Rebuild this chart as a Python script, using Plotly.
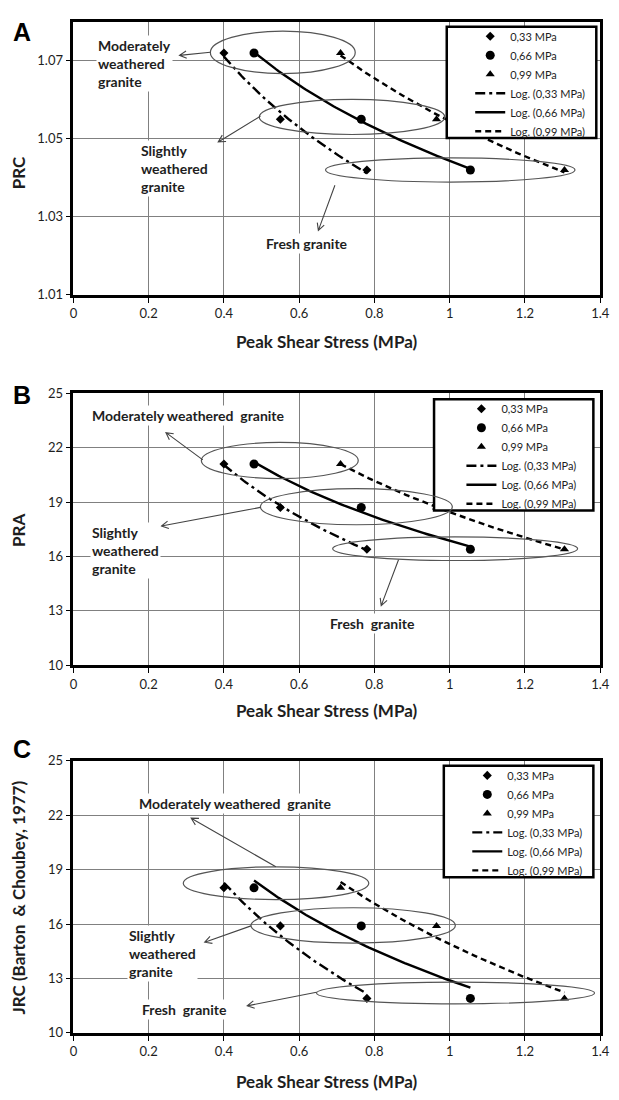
import numpy as np
import plotly.graph_objects as go

# Peak shear stress (MPa) for the three weathering grades
# (moderately weathered, slightly weathered, fresh) under each normal stress
stress_033 = [0.40, 0.55, 0.78]
stress_066 = [0.48, 0.765, 1.055]
stress_099 = [0.71, 0.965, 1.305]

# Roughness parameters for the same three grades
prc_values = [1.072, 1.055, 1.042]
pra_values = [21.1, 18.7, 16.4]
jrc_values = [18.0, 15.9, 11.9]

series_names = ["0,33 MPa", "0,66 MPa", "0,99 MPa"]
trend_names = ["Log. (0,33 MPa)", "Log. (0,66 MPa)", "Log. (0,99 MPa)"]

x_ticks = [0, 0.2, 0.4, 0.6, 0.8, 1.0, 1.2, 1.4]

# ---------------------------------------------------------------- layout geometry
W, H = 619, 1100
PX_L, PX_R = 71, 610
PLOT_W = PX_R - PX_L
X_RANGE = [0, 1.4]
FONT = "Lato"
TEXT = "#1e1e1e"


def px_x(px):
    return px / W


def px_y(py):
    return 1 - py / H


panels = [
    dict(letter="A", ytitle="PRC", values=prc_values, top=14, bottom=291,
         yrange=[1.01, 1.08], tick0=1.01, dtick=0.02, tickformat=".2f",
         letter_y=24, ytitle_y=167, xtitle_y=338,
         legend_box=(453, 606), legend_pos=(477, 14)),
    dict(letter="B", ytitle="PRA", values=pra_values, top=391, bottom=667,
         yrange=[10, 25], tick0=10, dtick=3, tickformat="d",
         letter_y=393, ytitle_y=530, xtitle_y=713,
         legend_box=(440, 603), legend_pos=(468, 392)),
    dict(letter="C", ytitle="JRC (Barton\u00a0 & Choubey, 1977)", values=jrc_values,
         top=764, bottom=1040, yrange=[10, 25], tick0=10, dtick=3, tickformat="d",
         letter_y=752, ytitle_y=903, xtitle_y=1089,
         legend_box=(450, 603), legend_pos=(474, 764)),
]

stresses = [stress_033, stress_066, stress_099]
symbols = ["diamond", "circle", "triangle-up"]
msizes = [7, 9, 8]
dashes = ["10px,4px,3px,4px", "solid", "6px,4px"]

fig = go.Figure()
shapes = []
annotations = []

for i, p in enumerate(panels):
    sfx = "" if i == 0 else str(i + 1)
    xa, ya = "x" + sfx, "y" + sfx
    leg = "legend" + sfx

    axis_common = dict(
        showgrid=True, gridcolor="#808080", gridwidth=1,
        showline=True, mirror=True, linecolor="black", linewidth=2.5,
        ticks="outside", ticklen=5, tickwidth=1.3, tickcolor="black",
        tickfont=dict(family=FONT, size=13, color=TEXT),
        ticklabeloverflow="allow",
        zeroline=False, fixedrange=True,
    )
    fig.update_layout(**{
        "xaxis" + sfx: dict(axis_common, domain=[px_x(PX_L), px_x(PX_R)],
                            range=X_RANGE, tickvals=x_ticks, anchor=ya),
        "yaxis" + sfx: dict(axis_common,
                            domain=[px_y(p["bottom"]), px_y(p["top"])],
                            range=p["yrange"], tick0=p["tick0"], dtick=p["dtick"],
                            tickformat=p["tickformat"], anchor=xa),
    })

    # logarithmic trend lines fitted to each normal-stress series
    for k, xs in enumerate(stresses):
        a, b = np.polyfit(np.log(xs), p["values"], 1)
        xfit = np.linspace(min(xs), max(xs), 80)
        fig.add_trace(go.Scatter(
            x=xfit, y=a * np.log(xfit) + b, mode="lines", name=trend_names[k],
            line=dict(color="black", width=2.4, dash=dashes[k]),
            xaxis=xa, yaxis=ya, legend=leg, legendrank=10 + k, hoverinfo="skip"))

    # measured points
    for k, xs in enumerate(stresses):
        fig.add_trace(go.Scatter(
            x=xs, y=p["values"], mode="markers", name=series_names[k],
            marker=dict(symbol=symbols[k], size=msizes[k], color="black"),
            xaxis=xa, yaxis=ya, legend=leg, legendrank=k))

    # legend frame and placement
    bx0, bx1 = p["legend_box"]
    lx, ly = p["legend_pos"]
    shapes.append(dict(type="rect", xref="paper", yref="paper",
                       x0=px_x(bx0), x1=px_x(bx1), y0=px_y(ly + 5), y1=px_y(ly + 118),
                       line=dict(color="black", width=2.5), fillcolor="white",
                       layer="above"))
    fig.update_layout(**{leg: dict(
        x=px_x(lx), y=px_y(ly), xanchor="left", yanchor="top",
        bgcolor="rgba(0,0,0,0)", borderwidth=0, tracegroupgap=0,
        font=dict(family=FONT, size=11, color=TEXT))})

    # panel letter and axis titles
    annotations.append(dict(text=p["letter"], xref="paper", yref="paper",
                            x=px_x(18), y=px_y(p["letter_y"]),
                            xanchor="center", yanchor="middle", showarrow=False,
                            font=dict(family="Liberation Sans", size=25, color="black",
                                      weight="bold")))
    annotations.append(dict(text=p["ytitle"], xref="paper", yref="paper",
                            x=px_x(15), y=px_y(p["ytitle_y"]),
                            xanchor="center", yanchor="middle", showarrow=False,
                            textangle=-90,
                            font=dict(family=FONT, size=17, color=TEXT, weight="bold")))
    annotations.append(dict(text="Peak Shear Stress (MPa)", xref="paper", yref="paper",
                            x=px_x(330), y=px_y(p["xtitle_y"]),
                            xanchor="center", yanchor="middle", showarrow=False,
                            font=dict(family=FONT, size=17, color=TEXT, weight="bold")))

# ---------------------------------------------------------------- group callouts
label_font = dict(family=FONT, size=14, color=TEXT, weight="bold")

callouts = {
    0: dict(
        ellipses=[(0.364, 0.749, 1.0667, 1.0776),
                  (0.494, 0.987, 1.0511, 1.0601),
                  (0.670, 1.333, 1.0389, 1.0451)],
        arrows=[((0.364, 1.0722), (0.282, 1.0714)),
                ((0.497, 1.0558), (0.385, 1.0492)),
                ((0.695, 1.0381), (0.651, 1.0265))],
        labels=[("Moderately<br>weathered<br>granite", 0.060, 1.0694, "left"),
                ("Slightly<br>weathered<br>granite", 0.174, 1.0423, "left"),
                ("Fresh granite", 0.620, 1.0231, "center")],
    ),
    1: dict(
        ellipses=[(0.340, 0.757, 20.30, 22.29),
                  (0.497, 1.007, 17.75, 19.74),
                  (0.689, 1.340, 15.78, 17.08)],
        arrows=[((0.344, 21.33), (0.246, 22.83)),
                ((0.497, 18.71), (0.234, 17.68)),
                ((0.864, 15.82), (0.818, 13.29))],
        labels=[("Moderately weathered\u00a0 granite", 0.305, 23.77, "center"),
                ("Slightly<br>weathered<br>granite", 0.043, 16.31, "left"),
                ("Fresh\u00a0 granite", 0.796, 12.33, "center")],
    ),
    2: dict(
        ellipses=[(0.292, 0.785, 17.35, 19.16),
                  (0.472, 1.015, 14.95, 16.90),
                  (0.646, 1.385, 11.60, 12.80)],
        arrows=[((0.538, 19.16), (0.313, 21.84)),
                ((0.472, 15.90), (0.349, 15.00)),
                ((0.646, 12.24), (0.462, 11.49))],
        labels=[("Moderately weathered\u00a0 granite", 0.430, 22.65, "center"),
                ("Slightly<br>weathered<br>granite", 0.142, 14.37, "left"),
                ("Fresh\u00a0 granite", 0.294, 11.30, "center")],
    ),
}


def arrow_path(tail, head, yr, h_px, size=8.0, spread=np.radians(28)):
    sx = PLOT_W / (X_RANGE[1] - X_RANGE[0])
    sy = h_px / (yr[1] - yr[0])
    dx = (head[0] - tail[0]) * sx
    dy = (head[1] - tail[1]) * sy
    n = np.hypot(dx, dy)
    ux, uy = dx / n, dy / n
    wings = []
    for s in (spread, -spread):
        c, si = np.cos(s), np.sin(s)
        rx, ry = ux * c - uy * si, ux * si + uy * c
        wings.append((head[0] - size * rx / sx, head[1] - size * ry / sy))
    return (f"M{tail[0]},{tail[1]} L{head[0]},{head[1]} "
            f"M{wings[0][0]},{wings[0][1]} L{head[0]},{head[1]} L{wings[1][0]},{wings[1][1]}")


for i, c in callouts.items():
    p = panels[i]
    sfx = "" if i == 0 else str(i + 1)
    xa, ya = "x" + sfx, "y" + sfx
    for (x0, x1, y0, y1) in c["ellipses"]:
        shapes.append(dict(type="circle", xref=xa, yref=ya, x0=x0, x1=x1, y0=y0, y1=y1,
                           line=dict(color="#555", width=1.2), layer="above"))
    for tail, head in c["arrows"]:
        shapes.append(dict(type="path", xref=xa, yref=ya,
                           path=arrow_path(tail, head, p["yrange"], p["bottom"] - p["top"]),
                           line=dict(color="#444", width=1.1), layer="above"))
    for text, lx, ly, anchor in c["labels"]:
        annotations.append(dict(text=text, xref=xa, yref=ya, x=lx, y=ly,
                                xanchor=anchor, yanchor="middle", align="left",
                                showarrow=False, bgcolor="white", borderpad=1,
                                font=label_font))

fig.update_layout(
    width=W, height=H, margin=dict(l=0, r=0, t=0, b=0, pad=0),
    paper_bgcolor="white", plot_bgcolor="white",
    showlegend=True, shapes=shapes, annotations=annotations,
)

fig.write_html("out.html")
